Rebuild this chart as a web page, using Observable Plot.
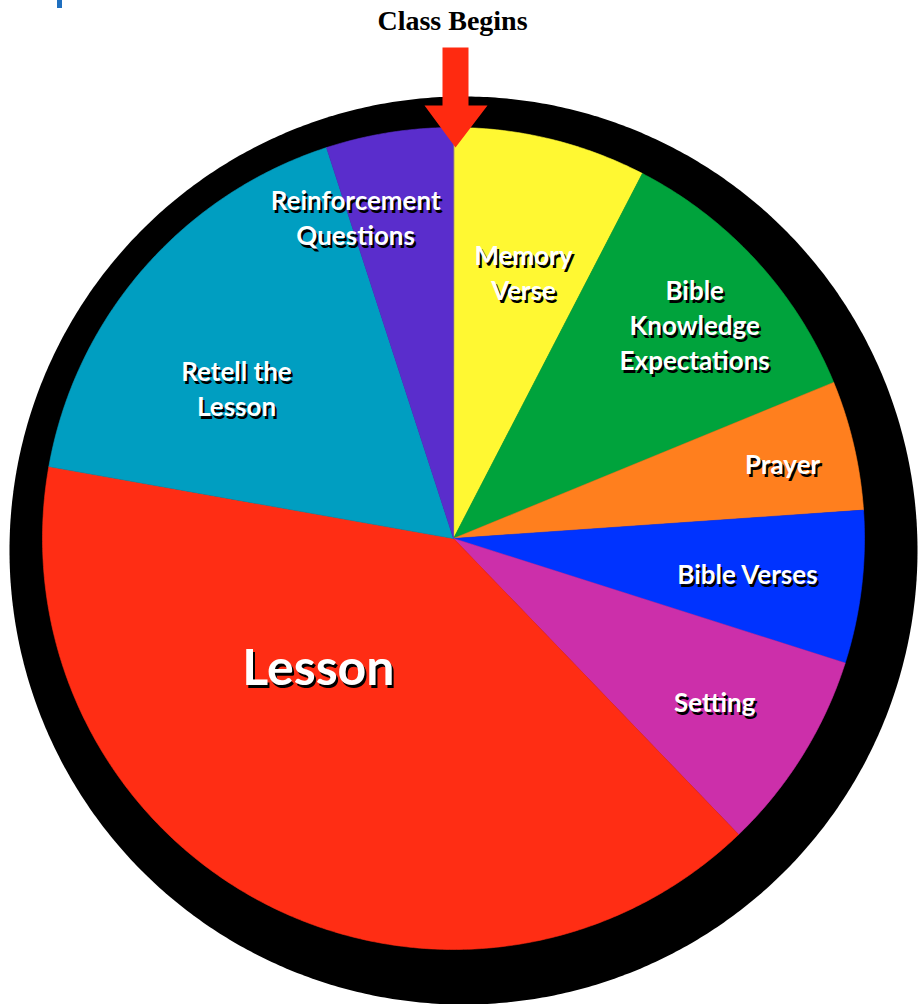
<!DOCTYPE html>
<html><head><meta charset="utf-8">
<script src="https://cdn.jsdelivr.net/npm/d3@7"></script>
<script src="https://cdn.jsdelivr.net/npm/@observablehq/plot@0.6"></script>
<style>
html,body{margin:0;padding:0;background:#fff;}
#chart{position:relative;width:918px;height:1004px;overflow:hidden;}
#chart svg{display:block;}
#mark{position:absolute;left:57px;top:0;width:5px;height:8px;background:#1f6fbf;z-index:2;}
</style></head><body>
<div id="chart"><div id="mark"></div></div>
<script>
// ---- data ----
const activities = ["Memory Verse", "Bible Knowledge Expectations", "Prayer", "Bible Verses", "Setting", "Lesson", "Retell the Lesson", "Reinforcement Questions"];
const shares = [7.6, 11.2, 5.1, 6.0, 7.9, 40.0, 17.2, 5.0];
const sliceColors = ["#fff832", "#00a33c", "#ff7f1e", "#0033ff", "#cc2faa", "#ff2d14", "#009ec1", "#5a2dcc"];
const labelLines = [["Memory", "Verse"], ["Bible", "Knowledge", "Expectations"], ["Prayer"], ["Bible Verses"], ["Setting"], ["Lesson"], ["Retell the", "Lesson"], ["Reinforcement", "Questions"]];
const startLabel = "Class Begins";

// ---- layout (not data) ----
const W = 918, H = 1004;
const cx = 453, cy = 538, R = 411;               // pie centre and radius in px
const labelPlacement = [[14.7, 0.672], [48.3, 0.786], [77, 0.822], [96.6, 0.72], [121.8, 0.748], [227.2, 0.448], [304.8, 0.643], [343.1, 0.819]]; // [deg clockwise from top, radius fraction]
const labelSize = [26, 26, 26, 26, 26, 50, 26, 26];

const total = d3.sum(shares);
const polar = (a, r) => ({x: r * Math.sin(a), y: r * Math.cos(a)});
let acc = 0;
const slices = activities.map((name, i) => {
  const a0 = acc / total * 2 * Math.PI; acc += shares[i];
  const a1 = acc / total * 2 * Math.PI;
  return {name, a0, a1};
});
const slicePts = slices.flatMap(s => {
  const pts = [{name: s.name, x: 0, y: 0}];
  const n = Math.max(2, Math.ceil((s.a1 - s.a0) / (Math.PI / 360)));
  for (let k = 0; k <= n; k++) pts.push({name: s.name, ...polar(s.a0 + (s.a1 - s.a0) * k / n, 1)});
  return pts;
});
// black rim (offset like a drop shadow)
const ringC = {x: 10 / R, y: -12 / R}, ringR = 454 / R;
const ringPts = d3.range(0, 721).map(k => {
  const p = polar(k / 720 * 2 * Math.PI, ringR);
  return {x: ringC.x + p.x, y: ringC.y + p.y};
});
// arrow pointing at the start of the class (top of pie)
const top0 = polar(0, 1);
const px = (dx, dy) => ({x: top0.x + dx / R, y: top0.y - dy / R});
const arrowPts = [px(-11, -80), px(15, -80), px(15, -22), px(34, -22), px(2, 20), px(-29, -22), px(-11, -22)];

const labels = activities.map((name, i) => {
  const [deg, rf] = labelPlacement[i];
  return {...polar(deg * Math.PI / 180, rf), text: labelLines[i].join("\n"), size: labelSize[i]};
});

const font = "Lato, 'Open Sans', sans-serif";
const textOpts = (fill, dx, dy) => ({x: "x", y: "y", text: "text", fontSize: d => d.size, fontFamily: font, fontWeight: "bold",
  textAnchor: "middle", lineAnchor: "middle", lineHeight: 1.35, fill, dx, dy});

const chart = Plot.plot({
  width: W, height: H, margin: 0,
  x: {domain: [-cx / R, (W - cx) / R], axis: null},
  y: {domain: [-(H - cy) / R, cy / R], axis: null},
  color: {domain: activities, range: sliceColors},
  style: {background: "transparent"},
  marks: [
    Plot.line(ringPts, {x: "x", y: "y", fill: "black", stroke: "none", curve: "linear-closed"}),
    Plot.line(slicePts, {x: "x", y: "y", z: "name", fill: "name", stroke: "name", strokeWidth: 0.6, curve: "linear-closed"}),
    Plot.line(arrowPts, {x: "x", y: "y", fill: "#ff2a10", stroke: "none", curve: "linear-closed"}),
    Plot.text([startLabel], {frameAnchor: "top", text: d => d, dx: -7, dy: 10, fontSize: 28, fontWeight: "bold",
      fontFamily: "'Liberation Serif', serif", fill: "black"}),
    Plot.text(labels, textOpts("black", 2, 3)),
    Plot.text(labels, textOpts("white", 0, 0))
  ]
});
document.getElementById("chart").appendChild(chart);
</script>
</body></html>
